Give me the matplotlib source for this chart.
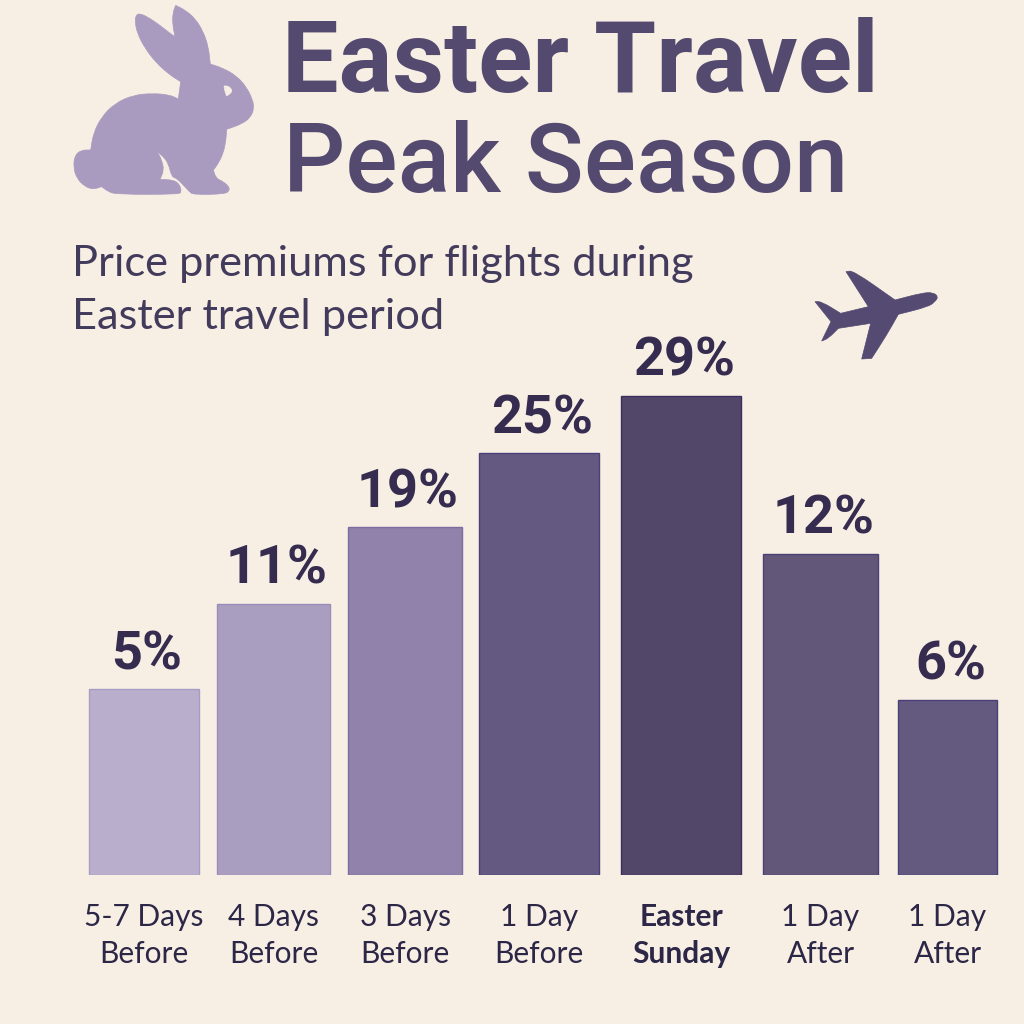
import matplotlib
matplotlib.use('Agg')
import matplotlib.pyplot as plt
from matplotlib.patches import PathPatch
from matplotlib.path import Path

plt.rcParams['font.family'] = ['Lato', 'DejaVu Sans']

categories = ['5-7 Days\nBefore', '4 Days\nBefore', '3 Days\nBefore', '1 Day\nBefore',
              'Easter\nSunday', '1 Day\nAfter', '1 Day\nAfter']
premium_labels = ['5%', '11%', '19%', '25%', '29%', '12%', '6%']
# bar heights as drawn in the picture (they do not scale with the printed numbers)
bar_heights = [186, 271, 348, 422, 479, 321, 175]

bar_lefts = [89, 217, 348, 479, 621, 763, 898]
bar_widths = [110, 113, 114, 120, 120, 115, 99]
bar_colors = ['#b9afcc', '#aa9ec0', '#9082ab', '#645981', '#524669', '#625779', '#645a80']
edge_colors = ['#a89bc4', '#9a8cb8', '#7c6da0', '#4a3f78', '#3a2f60', '#4a3f78', '#4a3f78']

BG = '#f8efe4'
RABBIT = '#a99bbf'
PLANE = '#544a72'
TITLE = '#544a70'
DARK = '#352c50'

rabbit_outline = [(240, 40), (270, 55), (305, 80), (330, 100), (345, 110), (345, 110), (338, 75), (338, 40),
                  (347, 16), (347, 16), (375, 30), (405, 55), (430, 95), (445, 140), (451, 192), (451, 192),
                  (490, 205), (530, 228), (560, 262), (578, 300), (582, 325), (572, 352), (545, 372), (500, 388),
                  (500, 388), (498, 420), (490, 460), (472, 495), (460, 510), (460, 510), (468, 535), (490, 545),
                  (507, 560), (508, 572), (495, 582), (400, 584), (388, 575), (370, 555), (350, 535), (335, 530),
                  (325, 490), (310, 470), (292, 455), (292, 455), (305, 480), (312, 510), (300, 538), (300, 538),
                  (340, 540), (358, 552), (365, 575), (355, 583), (170, 583), (145, 575), (125, 560), (125, 560),
                  (100, 568), (75, 560), (50, 535), (40, 500), (45, 465), (65, 450), (92, 450), (92, 450),
                  (100, 400), (125, 350), (165, 310), (220, 285), (280, 280), (330, 285), (355, 297), (355, 297),
                  (362, 245), (362, 245), (330, 225), (290, 190), (255, 145), (232, 100), (225, 65), (228, 45)]
rabbit_eye = [(492, 258), (492, 258), (505, 258), (517, 270), (512, 280), (500, 288), (500, 288), (495, 275)]
plane_outline = [(415, 110), (405, 125), (385, 140), (295, 163), (295, 163), (260, 225), (215, 295), (215, 295),
                 (185, 297), (185, 297), (212, 190), (212, 190), (115, 205), (115, 205), (85, 235), (65, 243),
                 (65, 243), (93, 185), (93, 185), (45, 125), (45, 125), (65, 125), (122, 160), (122, 160),
                 (205, 140), (205, 140), (138, 35), (138, 35), (160, 32), (285, 120), (285, 120), (370, 98),
                 (400, 98)]


def smooth_patch(points, left, top, color):
    """Turn outline points from a 3x crop into a smooth patch in page pixels"""
    pts = [(left + x / 3, top + y / 3) for x, y in points]
    n = len(pts)
    mid = [((pts[i][0] + pts[(i + 1) % n][0]) / 2, (pts[i][1] + pts[(i + 1) % n][1]) / 2) for i in range(n)]
    verts = [mid[-1]]
    codes = [Path.MOVETO]
    for i in range(n):
        verts += [pts[i], mid[i]]
        codes += [Path.CURVE3, Path.CURVE3]
    return PathPatch(Path(verts, codes), fc=color, ec=color, lw=0.5)


fig = plt.figure(figsize=(10.24, 10.24), dpi=100, facecolor=BG)

# page layer in pixel coordinates for the title and the icons
page = fig.add_axes([0, 0, 1, 1])
page.set_xlim(0, 1024)
page.set_ylim(1024, 0)
page.axis('off')

page.add_patch(smooth_patch(rabbit_outline, 60, 0, RABBIT))
page.add_patch(smooth_patch(rabbit_eye, 60, 0, BG))
page.add_patch(smooth_patch(plane_outline, 800, 260, PLANE))

page.text(282, 92, 'Easter Travel', fontsize=72.4, fontweight='bold', family='Roboto', color=TITLE, va='baseline')
page.text(283, 192, 'Peak Season', fontsize=70, fontweight='medium', family='Roboto', color=TITLE, va='baseline')
page.text(72, 276, 'Price premiums for flights during', fontsize=31.2, color='#433b5c', va='baseline')
page.text(72, 329, 'Easter travel period', fontsize=31.2, color='#433b5c', va='baseline')

# bar chart layer, baseline at y=875 px
ax = fig.add_axes([0, 149 / 1024, 1, 875 / 1024])
ax.patch.set_alpha(0)
ax.set_xlim(0, 1024)
ax.set_ylim(0, 875)
ax.bar(bar_lefts, bar_heights, width=bar_widths, align='edge', color=bar_colors,
       edgecolor=edge_colors, linewidth=1)

centers = [left + width / 2 for left, width in zip(bar_lefts, bar_widths)]
for x, h, label in zip(centers, bar_heights, premium_labels):
    ax.text(x + 3, h + 20, label, ha='center', va='baseline', fontsize=39, fontweight='bold',
            family='Roboto', color=DARK)

ax.set_yticks([])
ax.set_xticks(centers)
ax.set_xticklabels(categories, fontsize=21.5, color='#2c2647', linespacing=1.38)
ax.tick_params(axis='x', length=0, pad=20)
ax.get_xticklabels()[4].set_fontweight('bold')
for side in ax.spines.values():
    side.set_visible(False)

plt.savefig('out.png', dpi=100, facecolor=BG)
